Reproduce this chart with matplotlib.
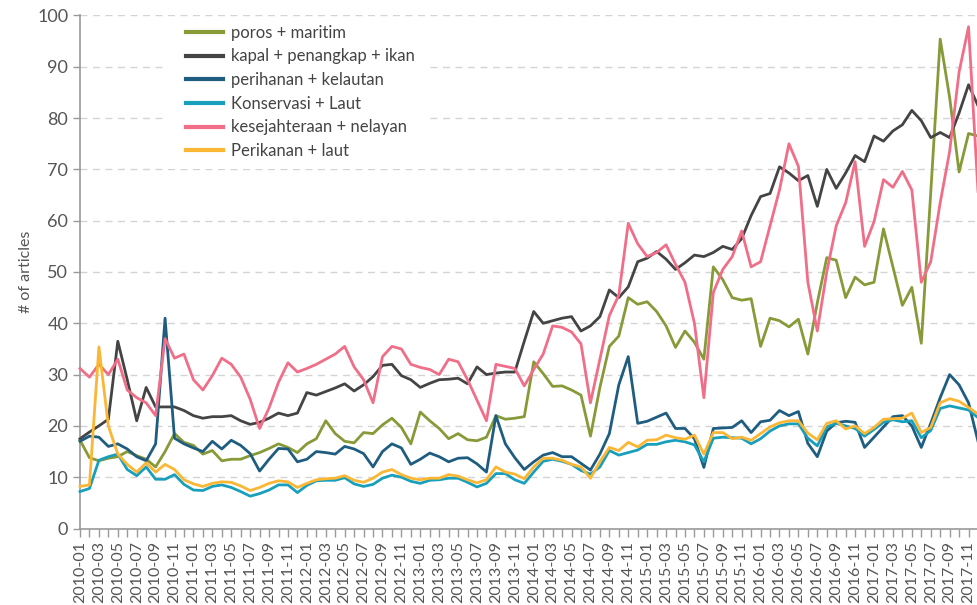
import numpy as np
import pandas as pd
import matplotlib
matplotlib.use("Agg")
import matplotlib.pyplot as plt
from matplotlib.patches import Rectangle

plt.rcParams['font.family'] = ['Lato', 'DejaVu Sans']

# monthly article counts, 2010-01 .. 2017-12
months = pd.period_range('2010-01', '2017-12', freq='M').strftime('%Y-%m').tolist()

poros_maritim = [
    17.2, 13.8, 13.2, 13.7, 14.0, 15.0, 14.2, 13.5, 12.0, 15.0, 18.5, 16.8,
    16.2, 14.5, 15.2, 13.2, 13.5, 13.5, 14.2, 14.8, 15.6, 16.5, 15.8, 14.8,
    16.5, 17.5, 21.0, 18.5, 17.0, 16.7, 18.7, 18.5, 20.2, 21.5, 19.7, 16.5,
    22.7, 21.0, 19.5, 17.5, 18.5, 17.3, 17.1, 17.8, 22.0, 21.3, 21.5, 21.8,
    32.5, 30.2, 27.7, 27.8, 27.0, 26.0, 18.0, 27.5, 35.5, 37.5, 45.0, 43.7,
    44.2, 42.3, 39.5, 35.3, 38.5, 36.3, 33.0, 51.0, 48.5, 45.0, 44.5, 44.8,
    35.5, 41.0, 40.5, 39.3, 40.8, 34.0, 44.0, 52.8, 52.3, 45.0, 49.0, 47.5,
    48.0, 58.4, 51.0, 43.5, 47.0, 36.1, 65.5, 95.4, 84.0, 69.5, 77.0, 76.5,
]
kapal_penangkap_ikan = [
    17.5, 18.8, 20.0, 21.3, 36.5, 29.0, 21.0, 27.5, 23.7, 23.7, 23.7, 23.0,
    22.0, 21.5, 21.8, 21.8, 22.0, 21.0, 20.3, 20.7, 21.5, 22.5, 22.0, 22.5,
    26.5, 26.0, 26.7, 27.4, 28.2, 26.8, 28.0, 29.6, 31.8, 32.0, 29.8, 29.0,
    27.5, 28.3, 29.0, 29.1, 29.3, 28.2, 31.5, 30.0, 30.3, 30.5, 30.5, 36.5,
    42.3, 40.0, 40.5, 41.0, 41.3, 38.5, 39.5, 41.3, 46.5, 45.0, 47.1, 52.0,
    52.7, 54.0, 52.5, 50.5, 51.8, 53.3, 53.0, 53.8, 55.0, 54.4, 56.5, 61.0,
    64.7, 65.3, 70.5, 69.3, 67.8, 68.8, 62.8, 70.0, 66.3, 69.3, 72.7, 71.5,
    76.5, 75.5, 77.5, 78.7, 81.5, 79.5, 76.2, 77.2, 76.2, 81.0, 86.5, 82.4,
]
perihanan_kelautan = [
    17.0, 18.0, 17.8, 16.0, 16.5, 15.5, 14.0, 13.2, 16.5, 41.0, 17.6, 16.5,
    15.7, 15.0, 17.0, 15.5, 17.2, 16.2, 14.6, 11.2, 13.5, 15.6, 15.5, 13.0,
    13.5, 15.0, 14.8, 14.5, 16.0, 15.5, 14.6, 12.0, 15.0, 16.5, 15.7, 12.5,
    13.5, 14.7, 14.0, 13.0, 13.7, 13.8, 12.6, 11.0, 22.0, 16.5, 13.8, 11.5,
    13.0, 14.3, 14.8, 14.0, 14.0, 12.7, 11.4, 14.5, 18.5, 28.0, 33.5, 20.5,
    20.9, 21.7, 22.5, 19.5, 19.5, 17.5, 11.9, 19.5, 19.6, 19.7, 21.0, 18.7,
    20.8, 21.1, 23.0, 22.0, 22.8, 16.6, 14.0, 19.0, 20.6, 20.9, 20.7, 15.8,
    17.8, 19.8, 21.8, 22.0, 20.0, 15.8, 20.5, 25.5, 30.0, 28.0, 24.5, 17.0,
]
konservasi_laut = [
    7.2, 7.8, 13.3, 14.0, 14.5, 11.5, 10.3, 12.0, 9.6, 9.6, 10.5, 8.6,
    7.5, 7.4, 8.2, 8.5, 8.0, 7.2, 6.3, 6.8, 7.5, 8.5, 8.5, 7.0,
    8.4, 9.3, 9.4, 9.4, 9.9, 8.7, 8.2, 8.6, 9.8, 10.4, 10.0, 9.2,
    8.8, 9.4, 9.5, 9.8, 9.8, 9.0, 8.1, 8.8, 10.7, 10.7, 9.5, 8.8,
    11.0, 13.1, 13.5, 13.1, 12.5, 11.3, 10.6, 12.0, 15.2, 14.3, 14.8, 15.3,
    16.4, 16.4, 16.9, 17.2, 16.9, 16.3, 13.0, 17.6, 17.8, 17.7, 17.6, 16.5,
    17.5, 19.0, 20.0, 20.4, 20.4, 17.6, 16.1, 19.8, 20.5, 20.0, 19.5, 18.0,
    19.3, 20.7, 21.2, 20.8, 21.0, 17.7, 19.1, 23.4, 23.9, 23.5, 23.1, 21.6,
]
kesejahteraan_nelayan = [
    31.2, 29.5, 32.0, 30.0, 33.0, 27.0, 25.5, 24.5, 22.0, 37.0, 33.2, 34.0,
    29.0, 27.0, 29.8, 33.2, 32.0, 29.5, 25.2, 19.5, 23.5, 28.5, 32.3, 30.5,
    31.2, 32.0, 33.0, 34.0, 35.5, 31.5, 29.0, 24.5, 33.5, 35.5, 35.0, 32.0,
    31.4, 31.0, 30.0, 33.0, 32.5, 29.0, 25.0, 21.0, 32.0, 31.6, 31.2, 27.8,
    31.0, 34.0, 39.5, 39.2, 38.3, 36.0, 24.5, 33.0, 41.5, 45.5, 59.5, 55.5,
    53.0, 53.8, 55.3, 51.5, 48.0, 40.0, 25.5, 46.0, 50.5, 53.0, 58.0, 51.0,
    52.0, 59.0, 66.0, 75.0, 70.6, 48.0, 38.5, 50.0, 59.0, 63.5, 71.5, 55.0,
    59.8, 68.0, 66.5, 69.6, 66.0, 48.0, 52.0, 63.5, 73.5, 89.0, 97.8, 65.7,
]
perikanan_laut = [
    8.2, 8.5, 35.4, 20.0, 14.5, 12.5, 11.0, 12.8, 11.0, 12.5, 11.5, 9.5,
    8.7, 8.2, 8.8, 9.1, 9.0, 8.3, 7.4, 8.0, 8.8, 9.3, 9.1, 8.0,
    8.8, 9.5, 9.7, 9.8, 10.3, 9.4, 9.0, 9.8, 11.0, 11.5, 10.5, 9.8,
    9.5, 9.8, 9.8, 10.5, 10.2, 9.5, 8.9, 9.5, 12.0, 11.0, 10.6, 9.7,
    12.0, 13.7, 13.7, 13.3, 12.5, 12.0, 9.8, 13.0, 15.8, 15.2, 16.8, 15.9,
    17.2, 17.3, 18.2, 17.7, 17.4, 18.2, 14.5, 18.7, 18.7, 17.5, 17.8, 17.2,
    18.5, 19.8, 20.6, 21.0, 21.0, 18.6, 17.3, 20.5, 21.0, 19.4, 20.0, 18.5,
    19.7, 21.3, 21.4, 21.5, 22.5, 18.7, 19.7, 24.5, 25.3, 24.8, 23.6, 22.3,
]

series = [
    ('poros + maritim', poros_maritim, '#879a38'),
    ('kapal + penangkap + ikan', kapal_penangkap_ikan, '#444444'),
    ('perihanan + kelautan', perihanan_kelautan, '#1f5d80'),
    ('Konservasi + Laut', konservasi_laut, '#179fbc'),
    ('kesejahteraan + nelayan', kesejahteraan_nelayan, '#f06e88'),
    ('Perikanan + laut', perikanan_laut, '#fbb634'),
]

fig = plt.figure(figsize=(9.78, 6.05), dpi=100)
ax = fig.add_axes([80 / 978, 76.5 / 605, 898 / 978, 513 / 605])

x = np.arange(len(months))
for label, vals, col in series:
    ax.plot(x, vals, color=col, lw=2.0, label=label, clip_on=False, zorder=3)

ax.set_xlim(0, len(months) - 1)
ax.set_ylim(0, 100)
ax.set_yticks(range(0, 101, 10))
ax.set_xticks(x)
ax.set_xticklabels([m if i % 2 == 0 else '' for i, m in enumerate(months)],
                   rotation=90, fontsize=11.5, color='#555555')
ax.tick_params(axis='y', labelsize=13, labelcolor='#555555', color='#999999',
               length=5, width=1)
ax.tick_params(axis='x', color='#999999', length=6, width=1, pad=3)

ax.yaxis.grid(True, color='#d4d4d4', lw=1.0, dashes=(5, 4))
ax.set_axisbelow(True)
for s in ('top', 'right'):
    ax.spines[s].set_visible(False)
for s in ('left', 'bottom'):
    ax.spines[s].set_color('#999999')
    ax.spines[s].set_linewidth(1.2)

ax.set_ylabel('# of articles', fontsize=11.5, color='#555555', labelpad=3)

# white panel behind the legend hides the dashed grid there
ax.add_patch(Rectangle((0.0924, 0.700), 0.2974, 0.295, transform=ax.transAxes,
                       facecolor='white', edgecolor='none', zorder=1))
leg = ax.legend(loc='upper left', bbox_to_anchor=(0.118, 0.982), fontsize=12,
                frameon=False, handlelength=2.2, handletextpad=0.5,
                labelspacing=0.46, borderpad=0, borderaxespad=0)
for line in leg.get_lines():
    line.set_linewidth(3)
for t in leg.get_texts():
    t.set_color('#444444')

fig.savefig('out.png', dpi=100)
